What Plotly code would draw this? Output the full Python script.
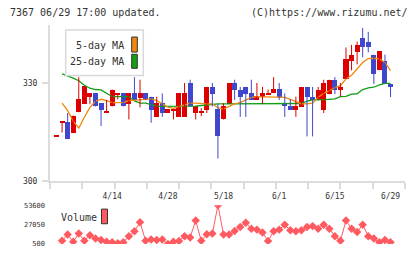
import plotly.graph_objects as go

# ---------------- data ----------------
dates = ["3/31", "4/1", "4/2", "4/5", "4/6", "4/7", "4/8", "4/9", "4/12", "4/13",
         "4/14", "4/15", "4/16", "4/19", "4/20", "4/21", "4/22", "4/23", "4/26", "4/27",
         "4/28", "4/30", "5/6", "5/7", "5/10", "5/11", "5/12", "5/13", "5/14", "5/17",
         "5/18", "5/19", "5/20", "5/21", "5/24", "5/25", "5/26", "5/27", "5/28", "5/31",
         "6/1", "6/2", "6/3", "6/4", "6/7", "6/8", "6/9", "6/10", "6/11", "6/14",
         "6/15", "6/16", "6/17", "6/18", "6/21", "6/22", "6/23", "6/24", "6/25", "6/28",
         "6/29"]

opens = [313.7, 317.9, 318.0, 314.8, 321.0, 323.6, 325.8, 326.8, 323.8, 321.0,
         322.8, 326.4, 326.8, 323.6, 326.8, 325.5, 326.8, 325.8, 319.6, 323.8,
         320.8, 321.6, 319.6, 319.6, 330.0, 320.8, 320.9, 321.8, 328.8, 322.0,
         318.8, 323.6, 330.0, 328.0, 328.8, 326.8, 324.8, 325.8, 326.6, 326.9,
         328.3, 323.6, 322.8, 321.8, 322.6, 328.8, 325.8, 324.8, 321.8, 326.6,
         331.0, 327.8, 331.2, 336.9, 339.6, 343.9, 342.7, 338.7, 333.9, 336.9,
         329.7]
highs = [313.9, 318.1, 320.8, 320.0, 331.8, 329.0, 326.8, 326.8, 323.8, 324.8,
         328.0, 326.6, 326.8, 326.8, 331.8, 331.0, 326.8, 325.8, 325.8, 326.8,
         322.0, 321.8, 326.8, 330.0, 331.0, 322.8, 322.3, 328.8, 330.0, 323.6,
         323.8, 330.0, 331.0, 328.8, 328.8, 331.0, 330.0, 328.8, 328.0, 331.8,
         330.0, 326.8, 325.0, 325.8, 328.8, 328.8, 328.8, 328.8, 331.0, 331.0,
         331.8, 330.0, 340.9, 341.7, 342.7, 346.9, 345.7, 338.7, 339.7, 338.7,
         329.7]
lows = [313.7, 314.8, 312.8, 314.8, 321.0, 323.6, 323.6, 322.8, 316.8, 321.0,
        322.8, 325.0, 322.8, 318.8, 324.8, 322.5, 324.8, 317.8, 319.6, 319.6,
        320.8, 318.8, 319.6, 319.6, 322.8, 318.8, 319.8, 320.8, 322.8, 306.8,
        318.8, 323.6, 324.8, 319.6, 319.6, 324.8, 324.8, 323.6, 326.6, 326.9,
        324.8, 319.6, 321.8, 319.6, 322.6, 313.6, 313.6, 324.8, 320.8, 326.6,
        326.6, 325.8, 331.2, 333.9, 335.7, 337.9, 339.4, 329.7, 333.9, 329.7,
        325.7]
closes = [313.9, 318.1, 312.8, 320.0, 325.1, 329.0, 326.8, 322.8, 321.8, 321.2,
          328.0, 326.6, 322.8, 326.8, 324.8, 326.8, 324.8, 321.8, 323.8, 320.8,
          322.0, 321.8, 326.8, 326.8, 322.8, 322.8, 321.1, 328.8, 326.6, 313.6,
          322.8, 330.0, 328.0, 325.8, 326.6, 324.8, 326.0, 326.8, 326.8, 328.3,
          325.8, 322.8, 321.8, 322.8, 328.8, 325.8, 324.8, 328.0, 330.0, 331.0,
          328.0, 328.8, 337.4, 338.7, 341.7, 340.9, 340.9, 332.7, 339.7, 329.7,
          328.7]

ma5 = [None, 323.8, 321.5, 318.3, 316.2, 319.5, 322.5, 324.4, 325.0, 324.6,
       324.0, 324.0, 324.0, 324.6, 324.8, 324.8, 325.0, 325.1, 324.6, 323.6,
       322.6, 322.2, 322.8, 323.4, 323.8, 323.8, 323.6, 323.6, 323.6, 322.4,
       322.0, 322.8, 323.6, 324.0, 324.8, 325.6, 325.8, 325.8, 325.8, 325.8,
       325.8, 325.6, 325.0, 324.3, 323.6, 323.6, 323.8, 325.6, 326.8, 327.6,
       328.6, 329.2, 331.2, 332.4, 334.3, 336.3, 337.5, 337.6, 337.4, 336.3,
       333.8]
ma25 = [None, 332.8, 332.2, 331.5, 330.7, 329.3, 328.4, 328.0, 327.9, 326.8,
        325.8, 325.8, 325.8, 325.8, 324.5, 323.8, 323.8, 323.3, 322.9, 322.8,
        322.8, 322.8, 322.8, 322.8, 322.8, 322.9, 323.1, 323.3, 323.5, 323.6,
        323.6, 323.6, 323.6, 323.6, 323.6, 323.6, 323.6, 323.6, 323.6, 323.6,
        323.6, 323.6, 323.6, 323.6, 323.7, 324.4, 324.8, 324.8, 324.8, 325.0,
        325.1, 325.8, 325.9, 326.6, 326.7, 328.0, 328.5, 328.7, 329.4, 329.9,
        329.9]
volume = [None, 4900, 13470, 3575, 14800, 4900, 12530, 8120, 5850, 3575,
          2770, 1440, 2770, 11200, 17880, 30320, 4900, 6780, 5850, 6780,
          500, 3575, 4510, 11200, 9460, 32590, 4900, 13870, 14800, 53600,
          13470, 13470, 18290, 23640, 29520, 21500, 20160, 16150, 4510, 17880,
          20160, 26840, 19220, 17880, 19220, 23640, 24970, 21500, 26840, 21500,
          11200, 4900, 32590, 21500, 16950, 26840, 11200, 8120, 2770, 5850,
          2770]

price_ticks = [300, 330]
vol_ticks = [500, 27050, 53600]
date_labels = ["4/14", "4/28", "5/18", "6/1", "6/15", "6/29"]

# ---------------- style ----------------
UP = "#dd0000"
DOWN = "#3f48cc"
MA5_C = "#f0870f"
MA25_C = "#12a012"
VOL_C = "#ff5a60"
AX_C = "#dcdcdc"
TXT_C = "#333333"
FONT = "DejaVu Sans Mono"

W, H = 420, 259
ML, MR, MT, MB = 50, 15, 25, 10
PW, PH = W - ML - MR, H - MT - MB


def px(xp):
    return (xp - ML) / PW


def py(yp):
    return (H - MB - yp) / PH


x = list(range(len(dates)))
up = [i for i in x if closes[i] >= opens[i]]
down = [i for i in x if closes[i] < opens[i]]

fig = go.Figure()

# moving averages
fig.add_trace(go.Scatter(x=x, y=ma25, mode="lines", line=dict(color=MA25_C, width=1.3),
                         hoverinfo="skip", showlegend=False))
fig.add_trace(go.Scatter(x=x, y=ma5, mode="lines", line=dict(color=MA5_C, width=1.3),
                         hoverinfo="skip", showlegend=False))

for idx, col in ((up, UP), (down, DOWN)):
    wx, wy = [], []
    for i in idx:
        wx += [i, i, None]
        wy += [lows[i], highs[i], None]
    fig.add_trace(go.Scatter(x=wx, y=wy, mode="lines", line=dict(color=col, width=1),
                             hoverinfo="skip", showlegend=False))
    fig.add_trace(go.Bar(x=idx,
                         base=[min(opens[i], closes[i]) for i in idx],
                         y=[max(abs(closes[i] - opens[i]), 0.3) for i in idx],
                         width=0.9, marker=dict(color=col, line=dict(width=0)),
                         showlegend=False, hoverinfo="skip"))

# volume
fig.add_trace(go.Scatter(x=x, y=volume, mode="lines+markers", xaxis="x2", yaxis="y2",
                         line=dict(color=VOL_C, width=1),
                         marker=dict(symbol="diamond", size=6.5, color=VOL_C),
                         showlegend=False, hoverinfo="skip"))

xr = [-1.17, 62.6]
main_bottom = py(184.3)
vol_top = py(209.3)

fig.update_layout(
    width=W, height=H,
    margin=dict(l=ML, r=MR, t=MT, b=MB),
    paper_bgcolor="white", plot_bgcolor="white",
    barmode="overlay", bargap=0,
    font=dict(family=FONT, color=TXT_C, size=9),
    xaxis=dict(domain=[0, 1], range=xr, anchor="y",
               tickmode="array", tickvals=[dates.index(d) for d in date_labels],
               ticktext=date_labels, ticks="", showgrid=False, zeroline=False,
               showline=True, linecolor=AX_C, linewidth=2, ticklabelstandoff=7,
               tickfont=dict(size=8, family=FONT, color=TXT_C),
               minor=dict(ticks="outside", ticklen=6, tickwidth=2, tickcolor=AX_C,
                          tick0=xr[0], dtick=(xr[1] - xr[0]) / 11, showgrid=False)),
    yaxis=dict(domain=[main_bottom, 1], range=[300, 347.8], anchor="x",
               tickmode="array", tickvals=price_ticks, ticks="outside", ticklen=6,
               tickwidth=2, tickcolor=AX_C, showgrid=False, zeroline=False,
               showline=True, linecolor=AX_C, linewidth=2, ticklabelstandoff=3,
               tickfont=dict(size=8, family=FONT, color=TXT_C)),
    xaxis2=dict(domain=[0, 1], range=xr, anchor="y2", visible=False),
    yaxis2=dict(domain=[0, vol_top], range=[500, 53600], anchor="x2",
                tickmode="array", tickvals=vol_ticks,
                ticktext=[str(v) for v in vol_ticks], ticks="", showgrid=False,
                zeroline=False, showline=False, ticklabelstandoff=4,
                tickfont=dict(size=7, family=FONT, color=TXT_C)),
)

shapes = [
    # MA legend box
    dict(type="rect", xref="paper", yref="paper", x0=px(65.7), x1=px(143.3),
         y0=py(76.7), y1=py(30), line=dict(color="#d8d8d8", width=1.5), fillcolor="white"),
    dict(type="rect", xref="paper", yref="paper", x0=px(131.7), x1=px(137.3),
         y0=py(52.7), y1=py(37.3), line=dict(color="#333333", width=1), fillcolor=MA5_C),
    dict(type="rect", xref="paper", yref="paper", x0=px(131.7), x1=px(137.3),
         y0=py(69.3), y1=py(55), line=dict(color="#333333", width=1), fillcolor=MA25_C),
    # volume legend
    dict(type="rect", xref="paper", yref="paper", x0=px(101.5), x1=px(107.5),
         y0=py(228.3), y1=py(213.3), line=dict(color="#333333", width=1), fillcolor=VOL_C),
]
fig.update_layout(shapes=shapes)

ann = [
    dict(text="7367 06/29 17:00 updated.", x=px(8), y=py(12.5), xanchor="left"),
    dict(text="(C)https://www.rizumu.net/", x=px(410), y=py(12.5), xanchor="right"),
    dict(text="5-day MA", x=px(125.5), y=py(45.5), xanchor="right"),
    dict(text="25-day MA", x=px(125.5), y=py(62.5), xanchor="right"),
    dict(text="Volume", x=px(58.5), y=py(222), xanchor="left"),
]
fig.update_layout(annotations=[dict(a, xref="paper", yref="paper", yanchor="middle",
                                     showarrow=False,
                                     font=dict(family=FONT, size=10, color=TXT_C))
                               for a in ann])

fig.write_html("out.html")
